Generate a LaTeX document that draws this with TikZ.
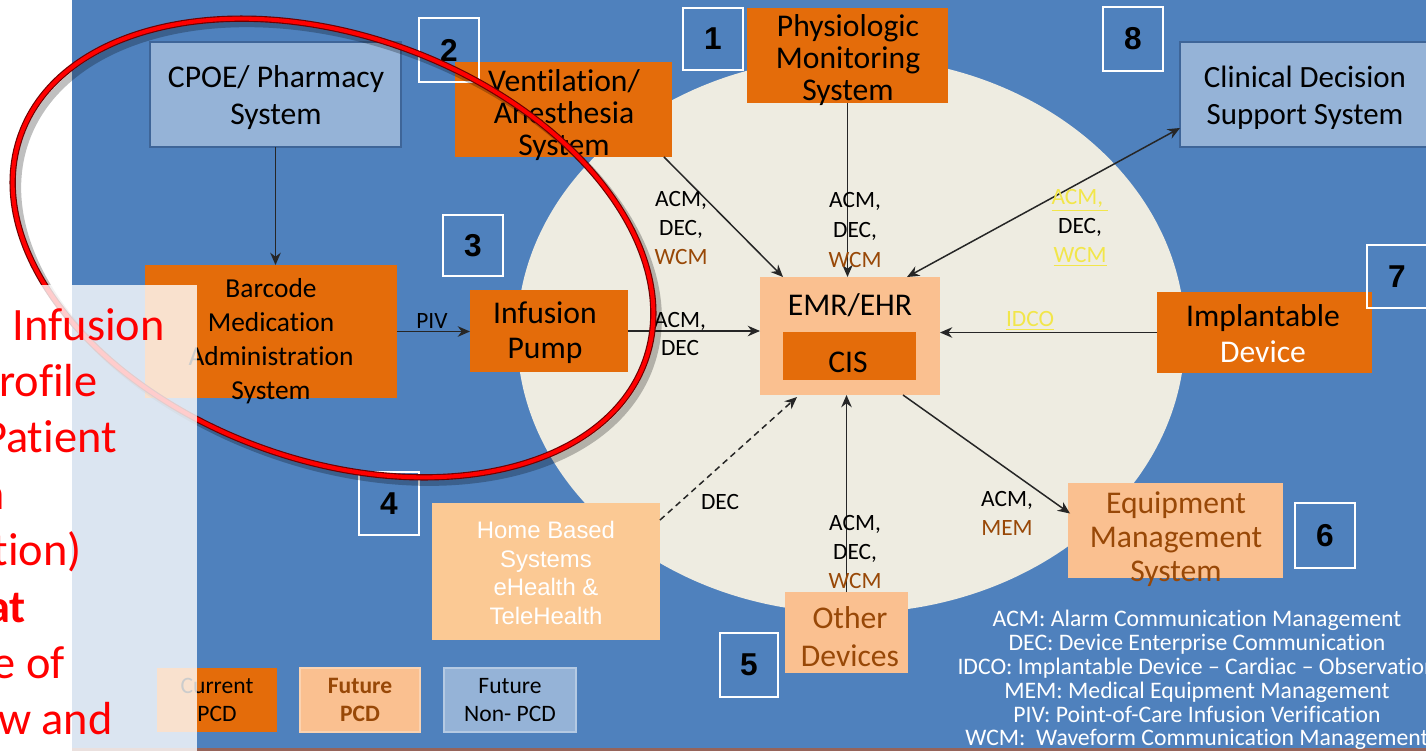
\documentclass[tikz,border=0pt]{standalone}
\usepackage{fontspec}
\setmainfont{Carlito}[Ligatures={TeX,NoCommon}]
\newfontfamily\arialf{Liberation Sans}
\usetikzlibrary{arrows.meta,calc}
\newcommand{\myfs}[2]{\fontsize{#1}{#2}\selectfont}
\definecolor{bgblue}{HTML}{4F81BD}
\definecolor{cream}{HTML}{EEECE1}
\definecolor{orng}{HTML}{E46C0A}
\definecolor{lorng}{HTML}{FAC090}
\definecolor{homeor}{HTML}{FBC994}
\definecolor{lblue}{HTML}{95B3D7}
\definecolor{bordblue}{HTML}{3E6598}
\definecolor{brn}{HTML}{984807}
\definecolor{yel}{HTML}{F2E64A}
\definecolor{arrc}{HTML}{262626}
\definecolor{darkred}{HTML}{6E0000}
\begin{document}
\begin{tikzpicture}[x=0.02cm,y=-0.02cm,
  bx/.style={rectangle, inner sep=0pt, outer sep=0pt},
  orbox/.style={bx, fill=orng},
  lobox/.style={bx, fill=lorng},
  lbbox/.style={bx, fill=lblue, draw=bordblue, line width=1.2pt},
  numbox/.style={bx, draw=white, line width=1.1pt, font=\arialf\bfseries\myfs{18}{18}},
  txt/.style={align=center, inner sep=0pt, font=\myfs{18}{18.4}},
  lab/.style={align=center, inner sep=0pt, font=\myfs{13.3}{16.4}},
  arr/.style={draw=arrc, line width=0.85pt, -{Stealth[length=7pt,width=6pt]}},
  arrboth/.style={draw=arrc, line width=0.85pt, {Stealth[length=7pt,width=6pt]}-{Stealth[length=7pt,width=6pt]}},
  redtxt/.style={anchor=base east, inner sep=0pt, text=red, font=\myfs{26.4}{30}},
]
\useasboundingbox (0,0) rectangle (1426,751);
\fill[white] (0,0) rectangle (1426,751);
\fill[bgblue] (72,0) rectangle (1426,751);
\fill[color={rgb,255:red,150;green,100;blue,90}] (72,748) rectangle (1426,751);

% central ellipse
\fill[cream] (851,335) ellipse [x radius=334, y radius=278];

% boxes
\node[lbbox, minimum width=5.02cm, minimum height=2.1cm] (cpoe) at (275.5,94.5) {};
\node[txt, font=\myfs{18}{21}] (cpoe-t) at (276,98) {CPOE/ Pharmacy\\System};

\node[orbox, minimum width=4.34cm, minimum height=1.9cm] (vent) at (563.5,109.5) {};
\node[txt] (vent-t) at (564,115) {Ventilation/\\Anesthesia\\System};

\node[orbox, minimum width=4.02cm, minimum height=1.9cm] (phys) at (847.5,55.5) {};
\node[txt, font=\myfs{18}{18.2}] (phys-t) at (848,60) {Physiologic\\Monitoring\\System};

\node[lbbox, minimum width=5.2cm, minimum height=2.1cm] (cdss) at (1310,94.5) {};
\node[txt, font=\myfs{17.6}{21}] (cdss-t) at (1305,98) {Clinical Decision\\Support System};

\node[orbox, minimum width=5.04cm, minimum height=2.66cm] (barcode) at (271,331.5) {};
\node[txt, font=\myfs{15.6}{19.3}] (barcode-t) at (271,341) {Barcode\\Medication\\Administration\\System};

\node[orbox, minimum width=3.16cm, minimum height=1.64cm] (pump) at (549,331) {};
\node[txt, font=\myfs{18}{19.8}] (pump-t) at (545,333) {Infusion\\Pump};

\node[lobox, minimum width=3.6cm, minimum height=2.36cm] (emr) at (850,336) {};
\node[txt] (emr-t) at (850,305) {EMR/EHR};
\node[orbox, minimum width=2.66cm, minimum height=0.96cm] (cis) at (849.5,356) {};
\node[txt] (cis-t) at (848,362) {CIS};

\node[orbox, minimum width=4.3cm, minimum height=1.62cm] (impl) at (1264.5,332.5) {};
\node[txt, font=\myfs{18}{20.4}] (impl-t) at (1263,334) {Implantable\\\textcolor{white}{Device}};

\node[lobox, minimum width=4.3cm, minimum height=1.9cm] (equip) at (1175.5,530.5) {};
\node[txt, text=brn, font=\myfs{18}{19.3}] (equip-t) at (1176,539) {Equipment\\Management\\System};

\node[bx, fill=homeor, minimum width=4.56cm, minimum height=2.74cm] (home) at (546,571.5) {};
\node[txt, text=white, font=\arialf\myfs{13.6}{16.2}] (home-t) at (546,573) {Home Based\\Systems\\eHealth \&\\TeleHealth};

\node[lobox, minimum width=2.46cm, minimum height=1.62cm] (other) at (846.5,632.5) {};
\node[txt, text=brn, font=\myfs{18}{21.5}] (other-t) at (850,637) {Other\\Devices};

% legend boxes
\node[orbox, align=center, font=\myfs{13.4}{15.9}, minimum width=2.4cm, minimum height=1.28cm] (leg1) at (217,700) {Current\\PCD};
\node[lobox, draw=lorng!70!white, line width=1pt, align=center, text=brn, font=\bfseries\myfs{13.4}{15.9}, minimum width=2.4cm, minimum height=1.28cm] (leg2) at (360,700) {Future\\PCD};
\node[bx, fill=lblue, draw=lblue!70!white, line width=1pt, align=center, font=\myfs{13.4}{15.9}, minimum width=2.64cm, minimum height=1.28cm] (leg3) at (510,700) {Future\\Non- PCD};

% number boxes
\node[numbox, minimum width=1.2cm, minimum height=1.24cm] (n1) at (713,39) {1};
\node[numbox, minimum width=1.2cm, minimum height=1.28cm] (n2) at (449,50) {2};
\node[numbox, minimum width=1.2cm, minimum height=1.22cm] (n3) at (473,245.5) {3};
\node[numbox, minimum width=1.2cm, minimum height=1.26cm] (n4) at (389,503.5) {4};
\node[numbox, minimum width=1.16cm, minimum height=1.28cm] (n5) at (749,665) {5};
\node[numbox, minimum width=1.2cm, minimum height=1.3cm] (n6) at (1325,535.5) {6};
\node[numbox, minimum width=1.2cm, minimum height=1.26cm] (n7) at (1397,276.5) {7};
\node[numbox, minimum width=1.2cm, minimum height=1.28cm] (n8) at (1133,39) {8};

% connectors
\draw[arr] (cpoe.south) -- (cpoe.south |- barcode.north);
\draw[arr] (barcode.east) -- (barcode.east -| pump.west);
\draw[arr] (pump.east) -- (pump.east -| emr.west);
\draw[arr] (impl.west) -- (impl.west -| emr.east);
\draw[arr] ($(vent.south east)+(-8,0)$) -- ($(emr.north west)+(23,0)$);
\draw[arr] (phys.south) -- (phys.south |- emr.north);
\draw[arrboth] ($(emr.north east)+(-33,0)$) -- ($(cdss.south west)+(0,-19)$);
\draw[arr] (other.north) -- (other.north |- emr.south);
\draw[arr, dash pattern=on 3.5pt off 2.5pt] ($(home.north east)+(0,17)$) -- ($(emr.south west)+(37,2)$);
\draw[arr] ($(emr.south east)+(-37,0)$) -- ($(equip.west)+(2,-17)$);

% connector labels
\node[lab] (l-vent) at (681,228) {ACM,\\DEC,\\\textcolor{brn}{WCM}};
\node[lab, font=\myfs{13.3}{17.2}] (l-phys) at (855,230) {ACM,\\DEC,\\\textcolor{brn}{WCM}};
\node[lab] (l-cdss) at (1080,228) {\textcolor{yel}{\underline{ACM,\ }}\\DEC,\\\textcolor{yel}{\underline{WCM}}};
\node[lab] (l-pump) at (680,334) {ACM,\\DEC};
\node[lab] (l-idco) at (1030,321) {\textcolor{yel}{\underline{IDCO}}};
\node[lab] (l-home) at (720,502) {DEC};
\node[lab] (l-other) at (855,552) {ACM,\\DEC,\\\textcolor{brn}{WCM}};
\node[lab] (l-equip) at (1007,513) {ACM,\\\textcolor{brn}{MEM}};
\node[lab] (l-piv) at (432,321) {PIV};

% abbreviations legend
\node[align=center, inner sep=0pt, text=white, font=\myfs{13.5}{13.6}] (legend) at (1197,680) {ACM: Alarm Communication Management\\DEC: Device Enterprise Communication\\IDCO: Implantable Device -- Cardiac -- Observation\\MEM: Medical Equipment Management\\PIV: Point-of-Care Infusion Verification\\WCM:\ \ Waveform Communication Management};

% red highlight ellipse
\begin{scope}[shift={(338,253)}, rotate=-20]
  \draw[black, opacity=0.25, line width=4pt] (0,0) ellipse [x radius=332, y radius=212];
\end{scope}
\begin{scope}[shift={(333,248)}, rotate=-20]
  \draw[darkred, line width=3.6pt] (0,0) ellipse [x radius=332, y radius=212];
  \draw[red, line width=2.3pt] (0,0) ellipse [x radius=332, y radius=212];
\end{scope}

% translucent overlay panel
\fill[white, opacity=0.8] (0,285) rectangle (197,751);

% red overlay text
\node[redtxt] (r1) at (165,340) {Infusion};
\node[redtxt] (r2) at (98,396.4) {rofile};
\node[redtxt] (r3) at (117,452.8) {Patient};
\node[redtxt, font=\bfseries\myfs{26.4}{30}] (r4) at (5,509.2) {n};
\node[redtxt] (r5) at (82,565.6) {tion)};
\node[redtxt, font=\bfseries\myfs{26.4}{30}] (r6) at (26,622) {at};
\node[redtxt] (r7) at (65,678.4) {e of};
\node[redtxt] (r8) at (113,734.8) {w and};
\end{tikzpicture}
\end{document}
